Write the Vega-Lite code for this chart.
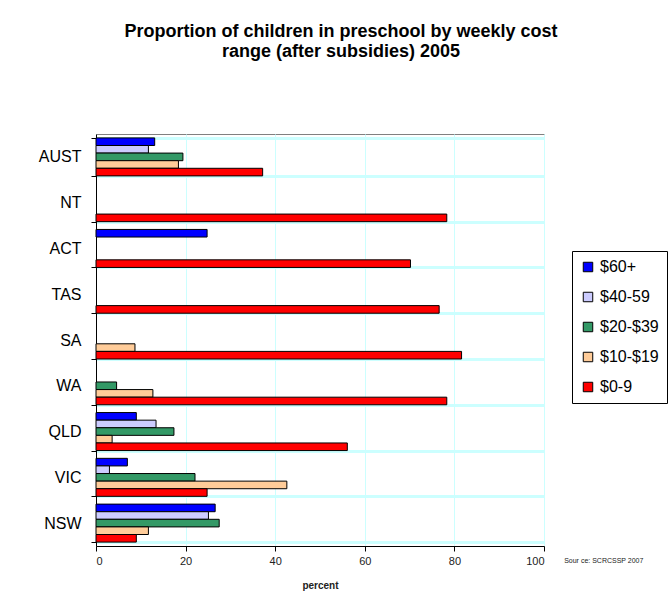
{
  "$schema": "https://vega.github.io/schema/vega-lite/v6.json",
  "autosize": {"type": "none"},
  "width": 448,
  "height": 412,
  "padding": {"left": 96, "top": 134, "right": 124, "bottom": 58},
  "background": "white",
  "title": {
    "text": ["Proportion of children in preschool by weekly cost", "range (after subsidies) 2005"],
    "anchor": "middle",
    "frame": "group",
    "dx": 21,
    "offset": 65,
    "font": "Liberation Sans",
    "fontSize": 18,
    "fontWeight": "bold",
    "lineHeight": 20,
    "color": "black"
  },
  "data": {
    "values": [
      {"state": "AUST", "range": "$60+", "pct": 13.1},
      {"state": "AUST", "range": "$40-59", "pct": 11.7},
      {"state": "AUST", "range": "$20-$39", "pct": 19.4},
      {"state": "AUST", "range": "$10-$19", "pct": 18.4},
      {"state": "AUST", "range": "$0-9", "pct": 37.2},
      {"state": "NT", "range": "$0-9", "pct": 78.3},
      {"state": "ACT", "range": "$60+", "pct": 24.8},
      {"state": "ACT", "range": "$0-9", "pct": 70.2},
      {"state": "TAS", "range": "$0-9", "pct": 76.6},
      {"state": "SA", "range": "$10-$19", "pct": 8.7},
      {"state": "SA", "range": "$0-9", "pct": 81.6},
      {"state": "WA", "range": "$20-$39", "pct": 4.6},
      {"state": "WA", "range": "$10-$19", "pct": 12.7},
      {"state": "WA", "range": "$0-9", "pct": 78.3},
      {"state": "QLD", "range": "$60+", "pct": 9.0},
      {"state": "QLD", "range": "$40-59", "pct": 13.4},
      {"state": "QLD", "range": "$20-$39", "pct": 17.4},
      {"state": "QLD", "range": "$10-$19", "pct": 3.6},
      {"state": "QLD", "range": "$0-9", "pct": 56.1},
      {"state": "VIC", "range": "$60+", "pct": 7.0},
      {"state": "VIC", "range": "$40-59", "pct": 3.0},
      {"state": "VIC", "range": "$20-$39", "pct": 22.1},
      {"state": "VIC", "range": "$10-$19", "pct": 42.6},
      {"state": "VIC", "range": "$0-9", "pct": 24.8},
      {"state": "NSW", "range": "$60+", "pct": 26.6},
      {"state": "NSW", "range": "$40-59", "pct": 25.1},
      {"state": "NSW", "range": "$20-$39", "pct": 27.5},
      {"state": "NSW", "range": "$10-$19", "pct": 11.7},
      {"state": "NSW", "range": "$0-9", "pct": 9.0}
    ]
  },
  "config": {
    "view": {"stroke": "#808080", "strokeWidth": 1},
    "font": "Liberation Sans"
  },
  "layer": [
    {
      "mark": {"type": "bar", "stroke": "black", "strokeWidth": 1},
      "encoding": {
        "y": {
          "field": "state",
          "type": "nominal",
          "scale": {"domain": ["AUST", "NT", "ACT", "TAS", "SA", "WA", "QLD", "VIC", "NSW"], "paddingInner": 0.17, "paddingOuter": 0.085},
          "axis": {
            "title": null,
            "tickBand": "extent",
            "grid": true,
            "gridColor": "#CCFFFF",
            "gridWidth": 3,
            "domainColor": "black",
            "tickColor": "black",
            "tickSize": 5,
            "labelFont": "Liberation Sans",
            "labelFontSize": 16,
            "labelColor": "black",
            "labelPadding": 10
          }
        },
        "yOffset": {
          "field": "range",
          "type": "nominal",
          "scale": {"domain": ["$60+", "$40-59", "$20-$39", "$10-$19", "$0-9"], "paddingInner": 0, "paddingOuter": 0}
        },
        "x": {
          "field": "pct",
          "type": "quantitative",
          "scale": {"domain": [0, 100], "nice": false},
          "axis": {
            "title": "percent",
            "values": [0, 20, 40, 60, 80, 100],
            "grid": true,
            "gridColor": "#CCFFFF",
            "gridWidth": 1,
            "domainColor": "black",
            "tickColor": "black",
            "tickSize": 5,
            "labelFont": "Liberation Sans",
            "labelFontSize": 11,
            "labelColor": "#222222",
            "labelPadding": 4,
            "titleFont": "Liberation Sans",
            "titleFontSize": 10,
            "titleFontWeight": "bold",
            "titleColor": "#222222",
            "titlePadding": 14
          }
        },
        "color": {
          "field": "range",
          "type": "nominal",
          "scale": {
            "domain": ["$60+", "$40-59", "$20-$39", "$10-$19", "$0-9"],
            "range": ["#0000FF", "#CCCCFF", "#339966", "#FFCC99", "#FF0000"]
          },
          "legend": {
            "title": null,
            "orient": "none",
            "legendX": 476,
            "legendY": 117,
            "strokeColor": "black",
            "padding": 8,
            "symbolType": "square",
            "symbolSize": 90,
            "symbolStrokeColor": "black",
            "symbolStrokeWidth": 1,
            "labelFont": "Liberation Sans",
            "labelFontSize": 16,
            "labelColor": "black",
            "rowPadding": 14,
            "labelOffset": 4
          }
        }
      }
    },
    {
      "data": {"values": [{"note": "Sour ce: SCRCSSP 2007", "xpos": 104.5, "state": "NSW"}]},
      "mark": {"type": "text", "align": "left", "fontSize": 7, "dy": 38, "color": "#222222", "font": "Liberation Sans"},
      "encoding": {
        "x": {"field": "xpos", "type": "quantitative"},
        "y": {"field": "state", "type": "nominal"},
        "text": {"field": "note"}
      }
    }
  ]
}
